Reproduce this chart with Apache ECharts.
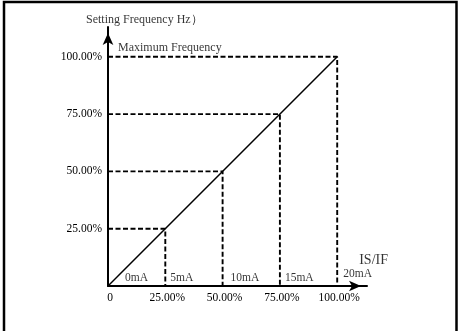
<!DOCTYPE html>
<html>
<head>
<meta charset="utf-8">
<script src="https://cdn.jsdelivr.net/npm/echarts@6/dist/echarts.min.js"></script>
<style>
html,body{margin:0;padding:0;background:#fff;}
#chart{width:458px;height:331px;}
</style>
</head>
<body>
<div id="chart"></div>
<script>
// ---- data ----
const xTicks = [0, 25, 50, 75, 100];            // input % (IS/IF)
const yTicks = [0, 25, 50, 75, 100];            // setting frequency %
const levels = [25, 50, 75, 100];               // dashed guide levels
const lineX = [0, 100];                         // characteristic line
const lineY = [0, 100];
const currentPoints = [0, 25, 50, 75, 100];     // input % where current labels sit
const currentLabels = ['0mA', '5mA', '10mA', '15mA', '20mA'];
const yAxisTitle = 'Setting Frequency Hz）';
const xAxisTitle = 'IS/IF';
const maxLabel = 'Maximum Frequency';

const FONT = '"Liberation Serif", "Times New Roman", serif';
const chart = echarts.init(document.getElementById('chart'), null, {renderer: 'canvas'});

function pctFmt(v) {
  if (v === 0) return '0';
  if (v > 100) return '';
  return v.toFixed(2) + '%';
}

const axisCommon = {
  type: 'value',
  min: 0,
  max: 113,
  interval: 25,
  splitLine: {show: false},
  axisTick: {show: false},
  axisLine: {
    show: true,
    lineStyle: {color: '#000', width: 2},
    symbol: ['none', 'arrow'],
    symbolSize: [8, 12],
    symbolOffset: [0, -6]
  }
};

const series = [];
// dashed guides
levels.forEach(function (v) {
  series.push({
    type: 'line',
    data: [[0, v], [v, v], [v, 0]],
    showSymbol: false,
    symbol: 'none',
    silent: true,
    lineStyle: {color: '#000', width: 1.9, type: [5, 2.5]},
    z: 2
  });
});
// characteristic line
series.push({
  type: 'line',
  data: lineX.map(function (x, i) { return [x, lineY[i]]; }),
  showSymbol: false,
  symbol: 'none',
  lineStyle: {color: '#000', width: 1.5},
  z: 3
});

// current labels
const curOffsets = [[17, -8], [5, -8], [8, -8], [5, -8], [6, -12]];
const labelData = currentPoints.map(function (x, i) {
  return {
    value: [x, 0],
    label: {
      show: true, position: 'inside', formatter: currentLabels[i],
      align: 'left', verticalAlign: 'middle', offset: curOffsets[i],
      color: '#000', fontFamily: FONT, fontSize: 11.5
    }
  };
});
labelData.push({
  value: [100, 0],
  label: {
    show: true, position: 'inside', formatter: xAxisTitle,
    align: 'left', verticalAlign: 'middle', offset: [22, -26],
    color: '#000', fontFamily: FONT, fontSize: 14
  }
});
labelData.push({
  value: [0, 100],
  label: {
    show: true, position: 'inside', formatter: maxLabel,
    align: 'left', verticalAlign: 'middle', offset: [10, -9],
    color: '#000', fontFamily: FONT, fontSize: 12
  }
});
labelData.push({
  value: [0, 113],
  label: {
    show: true, position: 'inside', formatter: yAxisTitle,
    align: 'left', verticalAlign: 'middle', offset: [-22, -7],
    color: '#000', fontFamily: FONT, fontSize: 12
  }
});
series.push({
  type: 'scatter',
  data: labelData,
  symbolSize: 1,
  itemStyle: {color: 'rgba(0,0,0,0)'},
  silent: true,
  clip: false,
  z: 5
});

chart.setOption({
  animation: false,
  backgroundColor: '#fff',
  grid: {left: 108, right: 91, top: 27, bottom: 45, containLabel: false},
  xAxis: Object.assign({}, axisCommon, {
    axisLabel: {
      formatter: pctFmt, showMaxLabel: false, color: '#000',
      fontFamily: FONT, fontSize: 11.5, margin: 6, padding: [0, 0, 0, 4]
    }
  }),
  yAxis: Object.assign({}, axisCommon, {
    axisLabel: {
      formatter: function (v) { return v === 0 ? '' : pctFmt(v); },
      showMaxLabel: false, color: '#000',
      fontFamily: FONT, fontSize: 11.5, margin: 6
    }
  }),
  graphic: [{
    type: 'rect',
    shape: {x: 4, y: 2, width: 452.5, height: 340},
    style: {fill: 'none', stroke: '#000', lineWidth: 2.5},
    silent: true,
    z: 100
  }],
  series: series
});
</script>
</body>
</html>
